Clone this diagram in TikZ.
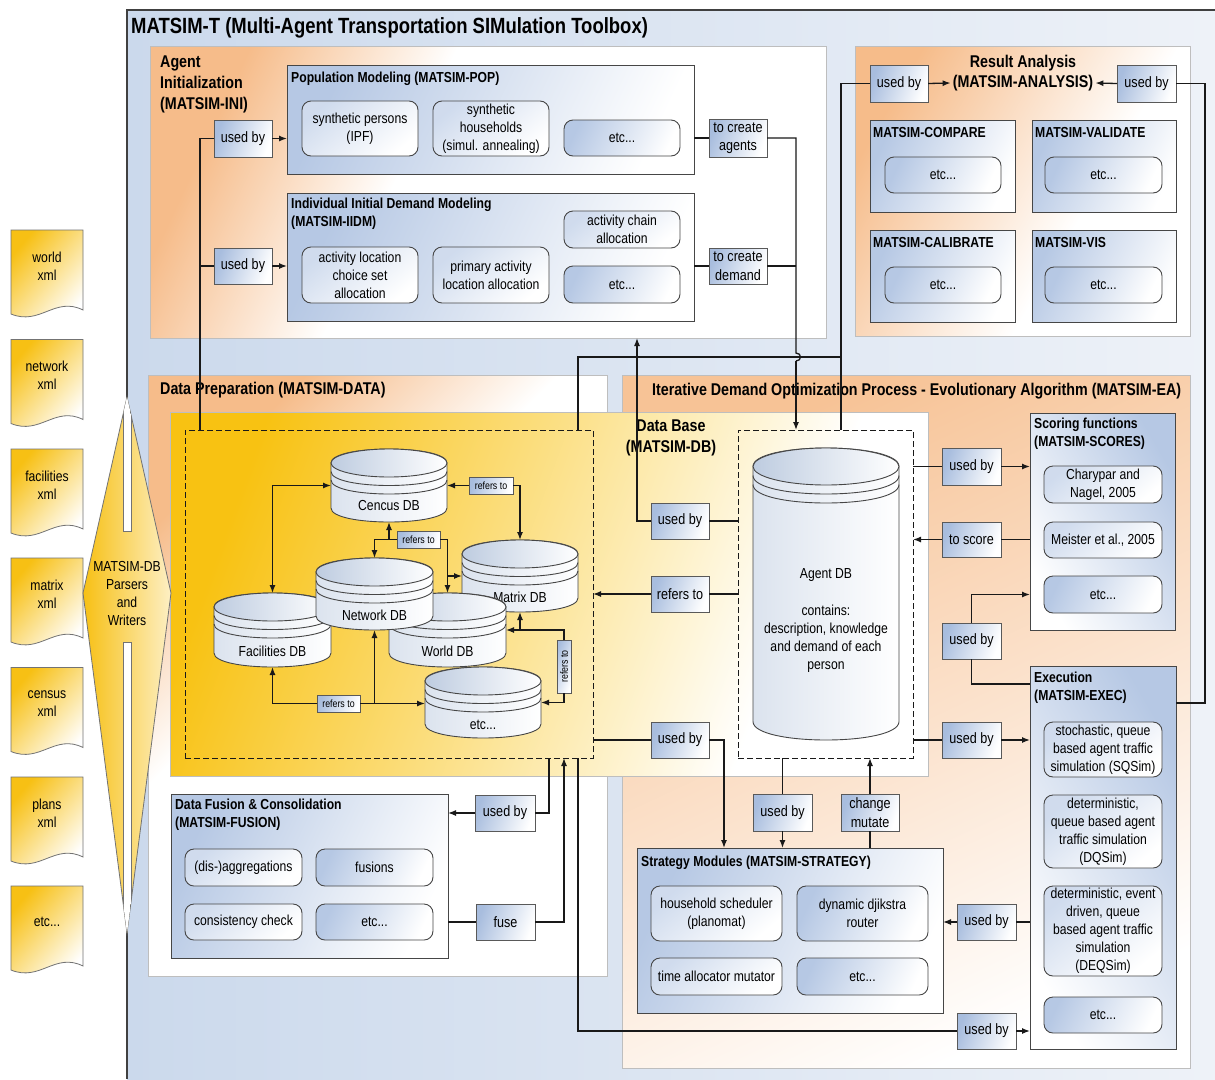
\documentclass[tikz,border=0pt]{standalone}
\usepackage{fontspec}
\setmainfont{Liberation Sans}[FakeStretch=0.84]
\usetikzlibrary{arrows.meta}
\definecolor{orA}{RGB}{246,188,138}
\definecolor{dbY}{RGB}{248,194,18}
\definecolor{outA}{RGB}{203,217,236}
\definecolor{outB}{RGB}{238,242,248}
\definecolor{bx}{RGB}{182,200,228}
\definecolor{lb}{RGB}{168,189,222}
\definecolor{bord}{RGB}{70,70,70}
\definecolor{pbord}{RGB}{190,190,190}
\definecolor{lc}{RGB}{25,25,25}
\definecolor{docY}{RGB}{247,192,20}
\definecolor{cylA}{RGB}{190,204,224}
\pgfdeclarehorizontalshading{orsh}{100bp}{color(0bp)=(orA); color(25bp)=(orA); color(42bp)=(white); color(100bp)=(white)}
\pgfdeclarehorizontalshading{orshb}{100bp}{color(0bp)=(orA); color(25bp)=(orA); color(60bp)=(white); color(100bp)=(white)}
\pgfdeclarehorizontalshading{dbsh}{100bp}{color(0bp)=(dbY); color(25bp)=(dbY); color(47bp)=(dbY!50!white); color(68bp)=(white); color(100bp)=(white)}
\newcommand\fTitle{\fontsize{22}{26}\selectfont\bfseries}
\newcommand\fHead{\fontsize{17}{21}\selectfont\bfseries}
\newcommand\fSub{\fontsize{14.5}{18}\selectfont\bfseries}
\newcommand\fNorm{\fontsize{14.5}{18}\selectfont}
\newcommand\fLbl{\fontsize{15}{18.5}\selectfont}
\newcommand\fTiny{\fontsize{10.5}{12}\selectfont}
% name, style, x1, y1, x2, y2, text
\newcommand\mkbox[7]{\node[#2, minimum width={#5-#3}, minimum height={#6-#4}] (#1) at ({(#3+#5)/2},{(#4+#6)/2}) {#7};}
% name, x1, y1, x2, y2, ry, ring gap, text y, text
\newcommand\mkcyl[9]{%
 \pgfmathsetmacro\cyCx{(#2+#4)/2}%
 \pgfmathsetmacro\cyYt{#3+#6}%
 \pgfmathsetmacro\cyYb{#5-#6}%
 \pgfmathsetmacro\cyH{4/3*#6}%
 \path[cylbody] (#2,\cyYt) -- (#2,\cyYb) .. controls (#2,\cyYb+\cyH) and (#4,\cyYb+\cyH) .. (#4,\cyYb) -- (#4,\cyYt) .. controls (#4,\cyYt-\cyH) and (#2,\cyYt-\cyH) .. (#2,\cyYt) -- cycle;
 \draw[cylline] (#2,\cyYt+#7) .. controls (#2,\cyYt+#7+\cyH) and (#4,\cyYt+#7+\cyH) .. (#4,\cyYt+#7);
 \draw[cylline] (#2,\cyYt+2*#7) .. controls (#2,\cyYt+2*#7+\cyH) and (#4,\cyYt+2*#7+\cyH) .. (#4,\cyYt+2*#7);
 \path[cyltop] (\cyCx,\cyYt) ellipse [x radius={(#4-#2)/2}, y radius=#6];
 \node[mbase, minimum width={#4-#2}, minimum height={#5-#3}] (#1) at (\cyCx,{(#3+#5)/2}) {};
 \node[font=\fNorm, inner sep=0, align=center] (#1t) at (\cyCx,#8) {#9};}
% name, top, text
\newcommand\mkdoc[3]{%
 \path[docsh] (11,#2) -- (83,#2) -- (83,#2+80) .. controls (55,#2+66) and (40,#2+96) .. (11,#2+84) -- cycle;
 \node[font=\fNorm, align=center, inner sep=0] (#1) at (47,#2+36) {#3};}
\begin{document}
\begin{tikzpicture}[x=1pt,y=-1pt,
 mbase/.style={inner sep=1pt,outer sep=0pt,align=center},
 sect/.style={mbase,draw=bord,line width=0.9pt,top color=bx,bottom color=white,shading angle=65},
 sectR/.style={mbase,draw=bord,line width=0.9pt,top color=bx,bottom color=white,shading angle=-60},
 rbx/.style={mbase,draw=bord,line width=0.9pt,rounded corners=9pt,top color=bx!65,bottom color=white,shading angle=40,font=\fNorm},
 rbxE/.style={mbase,draw=bord,line width=0.9pt,rounded corners=9pt,top color=bx,bottom color=white,shading angle=65,font=\fNorm},
 lbl/.style={mbase,draw=black!65,line width=0.9pt,top color=lb,bottom color=white,shading angle=70,font=\fLbl},
 lblS/.style={lbl,font=\fTiny,line width=0.7pt},
 dashb/.style={mbase,draw=lc,line width=0.9pt,dash pattern=on 6pt off 3pt},
 cylbody/.style={draw=bord,line width=0.9pt,left color=cylA!55,right color=white},
 cylline/.style={draw=bord,line width=0.9pt},
 cyltop/.style={draw=bord,line width=0.9pt,left color=cylA,right color=white},
 docsh/.style={draw=black!55,line width=0.8pt,top color=docY,bottom color=white,shading angle=50},
 mconn/.style={draw=lc,line width=1.3pt},
 marr/.style={mconn,-{Latex[length=8pt,width=6pt]}},
 mdarr/.style={mconn,{Latex[length=8pt,width=6pt]}-{Latex[length=8pt,width=6pt]}},
 ptitle/.style={anchor=west,inner sep=0,font=\fHead},
 stitle/.style={anchor=west,inner sep=0,font=\fSub}]
\useasboundingbox (0,0) rectangle (1215,1079);
\fill[white] (0,0) rectangle (1215,1079);
% outer panel
\path[left color=outA,right color=outB] (127,10) rectangle (1215,1079);
\draw[line width=1.1pt,draw=black!75] (127,1079) -- (127,10) -- (1215,10);
\node[anchor=west,inner sep=0,font=\fTitle] (ttl) at (131,28) {MATSIM-T (Multi-Agent Transportation SIMulation Toolbox)};
% panels
\path[shade,shading=orsh,shading angle=-25,draw=pbord,line width=0.8pt] (150,46) rectangle (826,338);
\path[shade,shading=orshb,shading angle=-30,draw=pbord,line width=0.8pt] (855,46) rectangle (1190,336);
\path[shade,shading=orsh,shading angle=-45,draw=pbord,line width=0.8pt] (148,375) rectangle (607,976);
\path[top color=orA!90,bottom color=white,shading angle=25,draw=pbord,line width=0.8pt] (622,375) rectangle (1190,1068);
\path[shade,shading=dbsh,shading angle=-20,draw=pbord,line width=0.8pt] (170,412) rectangle (928,776);
% panel titles
\node[anchor=north west,inner sep=0,font=\fHead,align=left] (iniT) at (160,56) {Agent\\Initialization\\(MATSIM-INI)};
\node[font=\fHead,inner sep=0] (raT1) at (1023,63) {Result Analysis};
\node[font=\fHead,inner sep=2pt] (raT2) at (1023,83) {(MATSIM-ANALYSIS)};
\node[ptitle] (dpT) at (160,390) {Data Preparation (MATSIM-DATA)};
\node[ptitle] (itT) at (652,391) {Iterative Demand Optimization Process - Evolutionary Algorithm (MATSIM-EA)};
\node[font=\fHead,inner sep=0,align=center] (dbT) at (671,437.5) {Data Base\\(MATSIM-DB)};
% files
\mkdoc{d1}{230}{world\\xml}
\mkdoc{d2}{339.5}{network\\xml}
\mkdoc{d3}{449}{facilities\\xml}
\mkdoc{d4}{558}{matrix\\xml}
\mkdoc{d5}{667.5}{census\\xml}
\mkdoc{d6}{777}{plans\\xml}
\mkdoc{d7}{886}{etc...}
% parsers diamond
\path[draw=black!55,line width=0.8pt,left color=docY,right color=white!75!docY] (127,397) -- (171,593) -- (127,933) -- (83,593) -- cycle;
\begin{scope}
\clip (127,397) -- (171,593) -- (127,933) -- (83,593) -- cycle;
\path[fill=white,draw=black!55,line width=0.8pt] (123,380) rectangle (131,531);
\path[fill=white,draw=black!55,line width=0.8pt] (123,642) rectangle (131,950);
\end{scope}
\node[font=\fNorm,align=center,inner sep=0] (prs) at (127,593) {MATSIM-DB\\Parsers\\and\\Writers};
% Agent initialization
\mkbox{pop}{sect}{287}{65}{694}{174}{}
\node[stitle] (popT) at (291,79) {Population Modeling (MATSIM-POP)};
\mkbox{sp}{rbx}{302}{101}{418}{156}{synthetic persons\\(IPF)}
\mkbox{sh}{rbx}{433}{101}{549}{156}{synthetic\\households\\(simul. annealing)}
\mkbox{pe}{rbxE}{564}{120}{680}{156}{etc...}
\mkbox{iidm}{sect}{287}{193}{694}{321}{}
\node[anchor=north west,inner sep=0,font=\fSub,align=left] (iidmT) at (291,198) {Individual Initial Demand Modeling\\(MATSIM-IIDM)};
\mkbox{al}{rbx}{302}{247}{418}{303}{activity location\\choice set\\allocation}
\mkbox{pa}{rbx}{433}{247}{549}{303}{primary activity\\location allocation}
\mkbox{ac}{rbx}{564}{211}{680}{248}{activity chain\\allocation}
\mkbox{ie}{rbxE}{564}{266}{680}{303}{etc...}
\mkbox{ubPop}{lbl}{214}{120}{272}{157}{used by}
\mkbox{ubIIDM}{lbl}{214}{248}{272}{284}{used by}
\mkbox{tcA}{lbl}{709}{119}{767}{157}{to create\\agents}
\mkbox{tcD}{lbl}{709}{248}{767}{284}{to create\\demand}
% Result analysis
\mkbox{ubRA1}{lbl}{870}{65}{928}{102}{used by}
\mkbox{ubRA2}{lbl}{1117}{65}{1176}{102}{used by}
\mkbox{cmp}{sect}{870}{120}{1015}{212}{}
\node[stitle] (cmpT) at (873,133) {MATSIM-COMPARE};
\mkbox{cmpE}{rbxE}{885}{157}{1001}{193}{etc...}
\mkbox{val}{sect}{1032}{120}{1176}{212}{}
\node[stitle] (valT) at (1035,133) {MATSIM-VALIDATE};
\mkbox{valE}{rbxE}{1045}{157}{1162}{193}{etc...}
\mkbox{cal}{sect}{870}{230}{1015}{322}{}
\node[stitle] (calT) at (873,243) {MATSIM-CALIBRATE};
\mkbox{calE}{rbxE}{885}{267}{1001}{303}{etc...}
\mkbox{vis}{sect}{1032}{230}{1176}{322}{}
\node[stitle] (visT) at (1035,243) {MATSIM-VIS};
\mkbox{visE}{rbxE}{1045}{267}{1162}{303}{etc...}
% Data base
\mkbox{dbl}{dashb}{185}{430}{593}{758}{}
\mkbox{adb}{dashb}{738}{430}{913}{758}{}
\mkcyl{cen}{331}{449}{447}{522}{14}{8.5}{506}{Cencus DB}
\mkcyl{mat}{462}{540}{578}{612}{14}{8.5}{597}{Matrix DB}
\mkcyl{fac}{214}{593}{331}{667}{14}{8.5}{651}{Facilities DB}
\mkcyl{wor}{389}{593}{506}{667}{14}{8.5}{651}{World DB}
\mkcyl{net}{316}{558}{433}{630}{14}{8.5}{615}{Network DB}
\mkcyl{etd}{425}{667}{541}{738}{14}{8.5}{725}{etc...}
\mkcyl{agd}{753}{448}{899}{740}{18.5}{9}{620.5}{Agent DB\\[19pt]contains:\\description, knowledge\\and demand of each\\person}
\mkbox{rfC}{lblS}{469}{477}{513}{494}{refers to}
\mkbox{rfN}{lblS}{397}{531}{440}{548}{refers to}
\mkbox{rfB}{lblS}{317}{695}{360}{712}{refers to}
\node[lblS,rotate=90,minimum width=53,minimum height=14] (rfR) at (564,666.5) {refers to};
\mkbox{ubAU}{lbl}{651}{503}{709}{539}{used by}
\mkbox{rfA}{lbl}{651}{576}{709}{612}{refers to}
\mkbox{ubAL}{lbl}{651}{722}{709}{758}{used by}
% Fusion
\mkbox{fus}{sect}{171}{794}{448}{958}{}
\node[anchor=north west,inner sep=0,font=\fSub,align=left] (fusT) at (175,799) {Data Fusion \& Consolidation\\(MATSIM-FUSION)};
\mkbox{fa}{rbx}{185}{849}{302}{886}{(dis-)aggregations}
\mkbox{fb}{rbxE}{316}{849}{433}{886}{fusions}
\mkbox{fc}{rbx}{185}{904}{302}{940}{consistency check}
\mkbox{fd}{rbxE}{316}{904}{433}{940}{etc...}
\mkbox{ubF}{lbl}{475}{795}{535}{831}{used by}
\mkbox{fuse}{lbl}{476}{904}{535}{940}{fuse}
% Strategy
\mkbox{strat}{sect}{637}{848}{943}{1013}{}
\node[stitle] (stT) at (641,863) {Strategy Modules (MATSIM-STRATEGY)};
\mkbox{hs}{rbx}{651}{886}{782}{941}{household scheduler\\(planomat)}
\mkbox{dj}{rbxE}{797}{886}{928}{941}{dynamic djikstra\\router}
\mkbox{ta}{rbx}{651}{958}{782}{995}{time allocator mutator}
\mkbox{se}{rbxE}{797}{958}{928}{995}{etc...}
\mkbox{ubS}{lbl}{753}{794}{812}{831}{used by}
\mkbox{cm}{lbl}{841}{794}{899}{831}{change\\mutate}
\mkbox{ubSt}{lbl}{957}{904}{1016}{940}{used by}
\mkbox{ubEx}{lbl}{957}{1013}{1016}{1049}{used by}
% Scoring and execution
\mkbox{scor}{sectR}{1030}{413}{1175}{630}{}
\node[anchor=north west,inner sep=0,font=\fSub,align=left] (scT) at (1034,418) {Scoring functions\\(MATSIM-SCORES)};
\mkbox{sc1}{rbx}{1044}{466}{1162}{503}{Charypar and\\Nagel, 2005}
\mkbox{sc2}{rbx}{1044}{522}{1162}{558}{Meister et al., 2005}
\mkbox{scE}{rbxE}{1044}{576}{1162}{613}{etc...}
\mkbox{exec}{sectR}{1030}{666}{1176}{1049}{}
\node[anchor=north west,inner sep=0,font=\fSub,align=left] (exT) at (1034,672) {Execution\\(MATSIM-EXEC)};
\mkbox{ex1}{rbx}{1044}{722}{1162}{777}{stochastic, queue\\based agent traffic\\simulation (SQSim)}
\mkbox{ex2}{rbx}{1044}{795}{1162}{868}{deterministic,\\queue based agent\\traffic simulation\\(DQSim)}
\mkbox{ex3}{rbx}{1044}{886}{1162}{976}{deterministic, event\\driven, queue\\based agent traffic\\simulation\\(DEQSim)}
\mkbox{ex4}{rbxE}{1044}{997}{1162}{1033}{etc...}
\mkbox{ubSc}{lbl}{942}{448}{1001}{485}{used by}
\mkbox{toScore}{lbl}{942}{522}{1001}{557}{to score}
\mkbox{ubM}{lbl}{942}{623}{1001}{659}{used by}
\mkbox{ubE}{lbl}{942}{722}{1001}{758}{used by}
% ---------------- connectors
\coordinate (jA) at (200,430);
\draw[mconn] (jA) |- (ubPop.west);
\draw[mconn] (jA |- ubIIDM.west) -- (ubIIDM.west);
\draw[marr] (ubPop.east) -- (ubPop.east -| pop.west);
\draw[marr] (ubIIDM.east) -- (ubIIDM.east -| iidm.west);
\draw[mconn] (tcA.west -| pop.east) -- (tcA.west);
\draw[mconn] (tcD.west -| iidm.east) -- (tcD.west);
\coordinate (hp) at (796,353);
\coordinate (hq) at (796,361);
\coordinate (jB) at (796,430);
\draw[mconn] (tcA.east) -| (hp) .. controls (802,353) and (802,361) .. (hq);
\draw[marr] (hq) -- (jB);
\draw[mconn] (tcD.east) -- (tcD.east -| hp);
\coordinate (jC) at (841,430);
\coordinate (jE) at (841,357);
\coordinate (jD) at (578,430);
\draw[mconn] (ubRA1.west) -| (jC);
\draw[mconn] (jD) |- (jE);
\coordinate (aiB) at (637,338);
\draw[marr] (ubAU.west) -| (aiB);
\draw[mconn] (ubAU.east) -- (ubAU.east -| adb.west);
\draw[marr] (rfA.west) -- (rfA.west -| dbl.east);
\draw[mconn] (rfA.east) -- (rfA.east -| adb.west);
\draw[mconn] (ubAL.west -| dbl.east) -- (ubAL.west);
\coordinate (sT1) at (724,848);
\draw[marr] (ubAL.east) -| (sT1);
\draw[mconn] (adb.south -| ubS.north) -- (ubS.north);
\draw[marr] (ubS.south) -- (ubS.south |- strat.north);
\draw[mconn] (cm.south |- strat.north) -- (cm.south);
\draw[marr] (cm.north) -- (cm.north |- adb.south);
\draw[mconn] (ubSc.west -| adb.east) -- (ubSc.west);
\draw[marr] (ubSc.east) -- (ubSc.east -| scor.west);
\draw[marr] (toScore.west) -- (toScore.west -| adb.east);
\draw[mconn] (toScore.east) -- (toScore.east -| scor.west);
\draw[marr] (ubM.north) |- (scor.west |- scE.west);
\coordinate (eW) at (1030,684);
\draw[mconn] (ubM.south) |- (eW);
\draw[mconn] (ubE.west -| adb.east) -- (ubE.west);
\draw[marr] (ubE.east) -- (ubE.east -| exec.west);
\draw[marr] (ubSt.west) -- (ubSt.west -| strat.east);
\draw[mconn] (ubSt.east) -- (ubSt.east -| exec.west);
\coordinate (jF) at (578,758);
\draw[mconn] (jF) |- (ubEx.west);
\draw[marr] (ubEx.east) -- (ubEx.east -| exec.west);
\coordinate (eE) at (1176,703);
\coordinate (rr) at (1205,703);
\draw[mconn] (eE) -- (rr) |- (ubRA2.east);
\draw[marr] (ubRA1.east) -- (raT2.west);
\draw[marr] (ubRA2.west) -- (raT2.east);
\coordinate (jG) at (549,758);
\draw[mconn] (jG) |- (ubF.east);
\draw[marr] (ubF.west) -- (ubF.west -| fus.east);
\draw[mconn] (fuse.west -| fus.east) -- (fuse.west);
\coordinate (jH) at (564,758);
\draw[marr] (fuse.east) -| (jH);
% DB cluster
\draw[mdarr] (fac.north) |- (cen.west);
\draw[marr] (rfC.west) -- (cen.east);
\draw[marr] (rfC.east) -| (mat.north);
\draw[marr] (rfN.west) -| (net.north);
\draw[marr] (cen.south |- rfN.west) -- (cen.south);
\draw[marr] (rfN.east) -| (wor.north);
\draw[marr] (wor.north |- mat.west) -- (mat.west);
\draw[marr] (rfB.west) -| (fac.south);
\draw[marr] (rfB.east) -- (rfB.east -| etd.west);
\draw[marr] (net.south |- rfB.east) -- (net.south);
\draw[marr] (rfR.east) |- (wor.east);
\draw[marr] (mat.south |- wor.east) -- (mat.south);
\draw[marr] (rfR.west) |- (etd.east);
\end{tikzpicture}
\end{document}
